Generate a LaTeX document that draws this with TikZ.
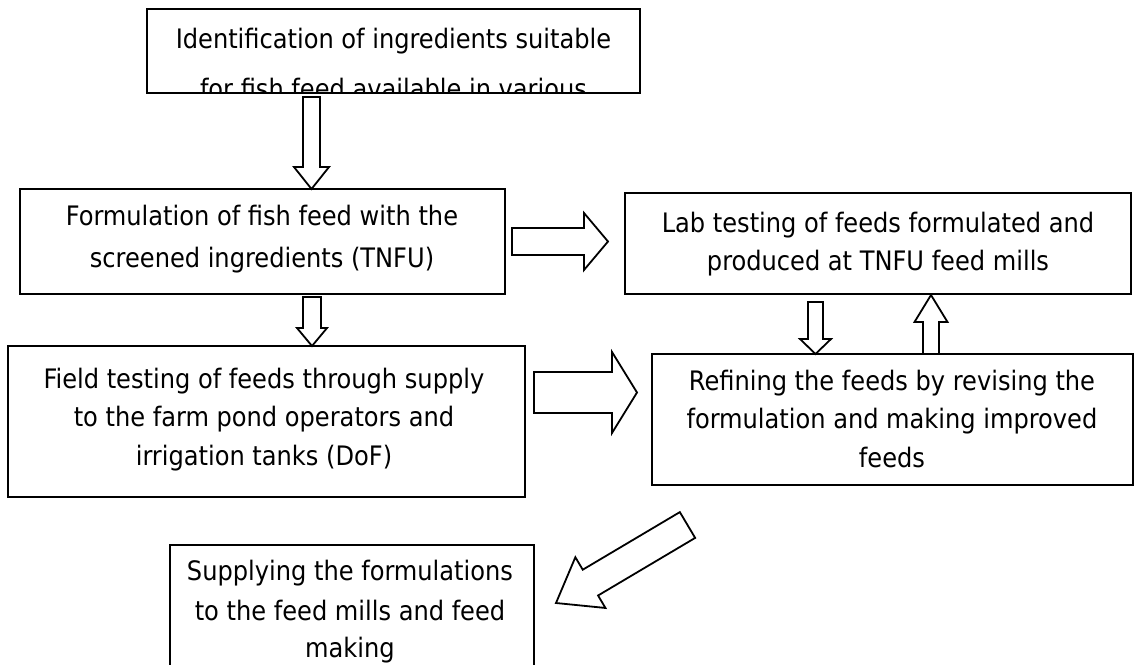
\documentclass[tikz,border=0pt]{standalone}
\usepackage{fontspec}
\setmainfont{DejaVu Sans Condensed}
\usetikzlibrary{calc}

% Hollow block arrow from #1 (tail centre) to #2 (tip):
% #3 half shaft width, #4 half head width, #5 head length
\newcommand\blockarrow[5]{%
  \coordinate (ba-base) at ($(#2)!#5!(#1)$);
  \draw[blockarrowstyle]
    ($(#1)!#3!90:(#2)$) -- ($(ba-base)!#3!90:(#2)$) -- ($(ba-base)!#4!90:(#2)$)
    -- (#2)
    -- ($(ba-base)!#4!-90:(#2)$) -- ($(ba-base)!#3!-90:(#2)$) -- ($(#1)!#3!-90:(#2)$)
    -- cycle;
}

\begin{document}
\begin{tikzpicture}[x=1pt,y=-1pt,
  box/.style={draw, line width=1.8pt, inner sep=0pt},
  txt/.style={anchor=base, inner sep=0pt, font=\fontsize{26.8}{32}\selectfont},
  blockarrowstyle/.style={draw, line width=1.8pt, line join=miter, fill=white}]
\useasboundingbox (0,0) rectangle (1134,664);

% process boxes
\node[box, minimum width=493pt, minimum height=84pt]  (ident)  at (393.5,51)   {};
\node[box, minimum width=485pt, minimum height=105pt] (formul) at (262.5,241.5) {};
\node[box, minimum width=517pt, minimum height=151pt] (field)  at (266.5,421.5) {};
\node[box, minimum width=506pt, minimum height=101pt] (lab)    at (878,243.5)   {};
\node[box, minimum width=481pt, minimum height=131pt] (refine) at (892.5,419.5) {};
\node[box, minimum width=364pt, minimum height=135pt] (supply) at (352,612.5)   {};

% box texts
\begin{scope}
  \clip (ident.north west) rectangle (ident.south east);
  \node[txt] (ident1) at (393.5,48) {Identification of ingredients suitable};
  \node[txt] (ident2) at (393.5,98) {for fish feed available in various};
\end{scope}
\node[txt] (formul1) at (262,225) {Formulation of fish feed with the};
\node[txt] (formul2) at (262,267) {screened ingredients (TNFU)};
\node[txt] (field1) at (264,388) {Field testing of feeds through supply};
\node[txt] (field2) at (264,426) {to the farm pond operators and};
\node[txt] (field3) at (264,465) {irrigation tanks (DoF)};
\node[txt] (lab1) at (878,232) {Lab testing of feeds formulated and};
\node[txt] (lab2) at (878,270) {produced at TNFU feed mills};
\node[txt] (refine1) at (892,390) {Refining the feeds by revising the};
\node[txt] (refine2) at (892,428) {formulation and making improved};
\node[txt] (refine3) at (892,467) {feeds};
\node[txt] (supply1) at (350,580) {Supplying the formulations};
\node[txt] (supply2) at (350,620) {to the feed mills and feed};
\node[txt] (supply3) at (350,657) {making};

% arrow end points
\coordinate (a1t) at (311.5,97);  \coordinate (a1h) at (311.5,189);
\coordinate (a2t) at (312,297);   \coordinate (a2h) at (312,346);
\coordinate (a3t) at (512,241.5); \coordinate (a3h) at (608,241.5);
\coordinate (a4t) at (534,392.5); \coordinate (a4h) at (637,392.5);
\coordinate (a5t) at (815.5,302); \coordinate (a5h) at (815.5,354);
\coordinate (a6t) at (931,354);   \coordinate (a6h) at (931,295);
\coordinate (a7t) at (687.5,525); \coordinate (a7h) at (556,603);

% hollow block arrows
\blockarrow{a1t}{a1h}{8.5pt}{17.5pt}{22pt}
\blockarrow{a2t}{a2h}{9pt}{15pt}{18pt}
\blockarrow{a3t}{a3h}{13.5pt}{28.5pt}{24pt}
\blockarrow{a4t}{a4h}{20.5pt}{40.5pt}{25pt}
\blockarrow{a5t}{a5h}{7.5pt}{15.5pt}{15pt}
\blockarrow{a6t}{a6h}{8pt}{16.5pt}{27pt}
\blockarrow{a7t}{a7h}{15pt}{29.5pt}{40pt}
\end{tikzpicture}
\end{document}
